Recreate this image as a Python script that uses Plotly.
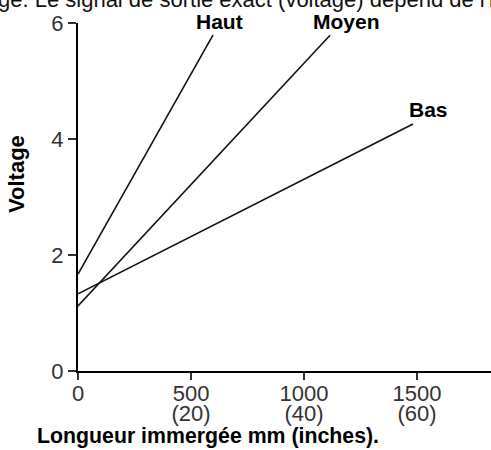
import plotly.graph_objects as go

series_names = ["Haut", "Moyen", "Bas"]
series_x = [[0, 597], [0, 1115], [0, 1482]]
series_y = [[1.67, 5.79], [1.12, 5.79], [1.33, 4.26]]
label_shift = [(7, 14), (16, 14), (15, 14)]

x_tickvals = [0, 500, 1000, 1500]
x_ticktext_mm = ["0", "500", "1000", "1500"]
x_tickvals_in = [500, 1000, 1500]
x_ticktext_in = ["(20)", "(40)", "(60)"]
y_tickvals = [0, 2, 4, 6]

FONT = "Liberation Sans, Arial, Helvetica, sans-serif"
W, H = 491, 450
L, R, T, B = 78, 0, 23, 79
XMAX = 1827

fig = go.Figure()
for name, xs, ys in zip(series_names, series_x, series_y):
    fig.add_trace(go.Scatter(x=xs, y=ys, mode="lines", name=name,
                             line=dict(color="#111111", width=1.6),
                             showlegend=False, hoverinfo="skip"))
# invisible trace to carry the inches axis
fig.add_trace(go.Scatter(x=[0], y=[0], xaxis="x2", mode="markers",
                         marker=dict(opacity=0), showlegend=False, hoverinfo="skip"))

pw, ph = W - L - R, H - T - B

def px2paper(px, py):
    return (px - L) / pw, (H - B - py) / ph

annotations = []
for name, xs, ys, (dx, dy) in zip(series_names, series_x, series_y, label_shift):
    annotations.append(dict(x=xs[-1], y=ys[-1], xref="x", yref="y", text=f"<b>{name}</b>",
                            showarrow=False, xanchor="center", yanchor="middle",
                            xshift=dx, yshift=dy,
                            font=dict(family=FONT, size=21, color="#000000")))

tx, ty = px2paper(35, 436)
annotations.append(dict(x=tx, y=ty, xref="paper", yref="paper",
                        text="<b>Longueur immergée mm (inches).</b>",
                        showarrow=False, xanchor="left", yanchor="middle",
                        font=dict(family=FONT, size=21.3, color="#000000")))

vx, vy = px2paper(16, 174)
annotations.append(dict(x=vx, y=vy, xref="paper", yref="paper", text="<b>Voltage</b>", textangle=-90,
                        showarrow=False, xanchor="center", yanchor="middle",
                        font=dict(family=FONT, size=22, color="#000000")))

cx, cy = px2paper(-4, -1)
annotations.append(dict(x=cx, y=cy, xref="paper", yref="paper",
                        text="ge. Le signal de sortie exact (voltage) dépend de l'immersion",
                        showarrow=False, xanchor="left", yanchor="middle",
                        font=dict(family=FONT, size=22, color="#111111")))

tickfont = dict(family=FONT, size=22, color="#333333")
fig.update_layout(
    width=W, height=H,
    margin=dict(l=L, r=R, t=T, b=B),
    paper_bgcolor="white", plot_bgcolor="white",
    xaxis=dict(range=[0, XMAX], tickvals=x_tickvals, ticktext=x_ticktext_mm, automargin=False,
               showgrid=False, zeroline=False, showline=True, linecolor="#000000", linewidth=2,
               ticks="outside", ticklen=7, tickwidth=1.5, tickcolor="#333333",
               ticklabelstandoff=-5, tickfont=tickfont),
    xaxis2=dict(range=[0, XMAX], overlaying="x", anchor="y", side="bottom",
                tickvals=x_tickvals_in, ticktext=x_ticktext_in, automargin=False,
                showgrid=False, zeroline=False, showline=False, ticks="",
                ticklabelstandoff=27, tickfont=tickfont),
    yaxis=dict(range=[0, 6], tickvals=y_tickvals, automargin=False,
               showgrid=False, zeroline=False, showline=True, linecolor="#000000", linewidth=2,
               ticks="outside", ticklen=8, tickwidth=1.5, tickcolor="#333333",
               tickfont=tickfont),
    annotations=annotations,
)

fig.write_html("out.html", config={"displayModeBar": False},
               post_script="document.body.style.margin='0';document.body.style.overflow='hidden';")
